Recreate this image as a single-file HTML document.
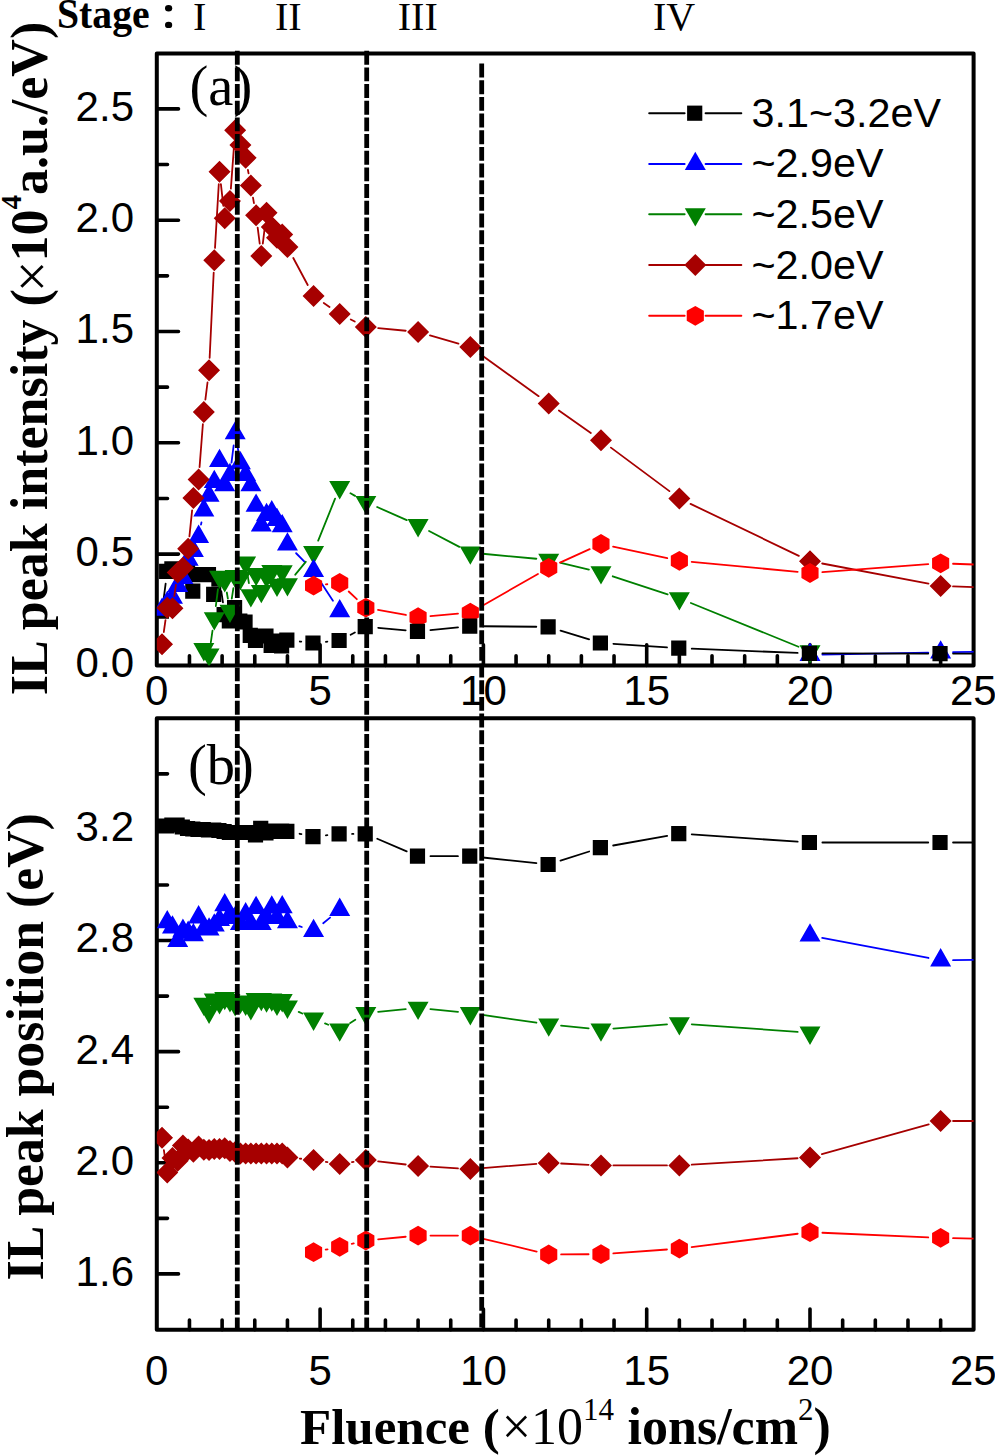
<!DOCTYPE html>
<html><head><meta charset="utf-8"><title>chart</title>
<style>html,body{margin:0;padding:0;background:#fff;}svg{display:block;}</style>
</head><body>
<svg width="995" height="1456" viewBox="0 0 995 1456">
<defs><clipPath id="ca"><rect x="156.8" y="53.5" width="816.8" height="612.0"/></clipPath><clipPath id="cb"><rect x="156.8" y="718.3" width="816.8" height="611.5"/></clipPath></defs>
<rect width="995" height="1456" fill="#fff"/>
<path d="M156.8 53.5H973.6V665.5H156.8Z" fill="none" stroke="#000" stroke-width="4.0" stroke-linejoin="round"/>
<path d="M189.46 665.5V655.8M222.12 665.5V655.8M254.78 665.5V655.8M287.44 665.5V655.8M320.1 665.5V644.8M352.76 665.5V655.8M385.42 665.5V655.8M418.08 665.5V655.8M450.74 665.5V655.8M483.4 665.5V644.8M516.06 665.5V655.8M548.72 665.5V655.8M581.38 665.5V655.8M614.04 665.5V655.8M646.7 665.5V644.8M679.36 665.5V655.8M712.02 665.5V655.8M744.68 665.5V655.8M777.34 665.5V655.8M810 665.5V644.8M842.66 665.5V655.8M875.32 665.5V655.8M907.98 665.5V655.8M940.64 665.5V655.8M156.8 554.1H178.5M156.8 442.8H178.5M156.8 331.5H178.5M156.8 220.2H178.5M156.8 108.9H178.5M156.8 609.75H167.5M156.8 498.45H167.5M156.8 387.15H167.5M156.8 275.85H167.5M156.8 164.55H167.5" stroke="#000" stroke-width="3.6" stroke-linecap="round" fill="none"/>
<g font-family="Liberation Sans" font-size="42" fill="#000"><text x="134" y="677.3" text-anchor="end">0.0</text><text x="134" y="566" text-anchor="end">0.5</text><text x="134" y="454.7" text-anchor="end">1.0</text><text x="134" y="343.4" text-anchor="end">1.5</text><text x="134" y="232.1" text-anchor="end">2.0</text><text x="134" y="120.8" text-anchor="end">2.5</text><text x="156.8" y="704.6" text-anchor="middle">0</text><text x="320.1" y="704.6" text-anchor="middle">5</text><text x="483.4" y="704.6" text-anchor="middle">10</text><text x="646.7" y="704.6" text-anchor="middle">15</text><text x="810" y="704.6" text-anchor="middle">20</text><text x="973.3" y="704.6" text-anchor="middle">25</text></g>
<path d="M156.8 718.3H973.6V1329.8H156.8Z" fill="none" stroke="#000" stroke-width="4.0" stroke-linejoin="round"/>
<path d="M189.46 1329.8V1320.1M222.12 1329.8V1320.1M254.78 1329.8V1320.1M287.44 1329.8V1320.1M320.1 1329.8V1309.1M352.76 1329.8V1320.1M385.42 1329.8V1320.1M418.08 1329.8V1320.1M450.74 1329.8V1320.1M483.4 1329.8V1309.1M516.06 1329.8V1320.1M548.72 1329.8V1320.1M581.38 1329.8V1320.1M614.04 1329.8V1320.1M646.7 1329.8V1309.1M679.36 1329.8V1320.1M712.02 1329.8V1320.1M744.68 1329.8V1320.1M777.34 1329.8V1320.1M810 1329.8V1309.1M842.66 1329.8V1320.1M875.32 1329.8V1320.1M907.98 1329.8V1320.1M940.64 1329.8V1320.1M156.8 1273.9H178.5M156.8 1162.78H178.5M156.8 1051.66H178.5M156.8 940.54H178.5M156.8 829.42H178.5M156.8 1218.34H167.5M156.8 1107.22H167.5M156.8 996.1H167.5M156.8 884.98H167.5M156.8 773.86H167.5" stroke="#000" stroke-width="3.6" stroke-linecap="round" fill="none"/>
<g font-family="Liberation Sans" font-size="42" fill="#000"><text x="134" y="1285.8" text-anchor="end">1.6</text><text x="134" y="1174.68" text-anchor="end">2.0</text><text x="134" y="1063.56" text-anchor="end">2.4</text><text x="134" y="952.44" text-anchor="end">2.8</text><text x="134" y="841.32" text-anchor="end">3.2</text><text x="156.8" y="1385.2" text-anchor="middle">0</text><text x="320.1" y="1385.2" text-anchor="middle">5</text><text x="483.4" y="1385.2" text-anchor="middle">10</text><text x="646.7" y="1385.2" text-anchor="middle">15</text><text x="810" y="1385.2" text-anchor="middle">20</text><text x="973.3" y="1385.2" text-anchor="middle">25</text></g>
<g clip-path="url(#ca)">
<path d="M163.64 598.81L165.64 583.59M221.3 591.27L222.94 602.43" fill="none" stroke="#000000" stroke-width="1.8" stroke-linecap="round"/>
<path d="M153.83 603.5h15.2v15.2h-15.2zM159.05 563.7h15.2v15.2h-15.2zM164.28 561.3h15.2v15.2h-15.2zM169.5 562.4h15.2v15.2h-15.2zM174.73 563.4h15.2v15.2h-15.2zM179.95 564.4h15.2v15.2h-15.2zM185.18 583.6h15.2v15.2h-15.2zM190.4 567.1h15.2v15.2h-15.2zM195.63 567.1h15.2v15.2h-15.2zM200.86 567h15.2v15.2h-15.2zM206.08 586.8h15.2v15.2h-15.2zM211.31 571.4h15.2v15.2h-15.2zM216.53 607.1h15.2v15.2h-15.2zM221.76 613.2h15.2v15.2h-15.2zM226.98 599.9h15.2v15.2h-15.2zM232.21 613.4h15.2v15.2h-15.2zM237.44 614.4h15.2v15.2h-15.2zM242.66 627.7h15.2v15.2h-15.2zM247.89 632.8h15.2v15.2h-15.2zM253.11 628.4h15.2v15.2h-15.2zM258.34 628.4h15.2v15.2h-15.2zM263.56 637.9h15.2v15.2h-15.2zM268.79 633.4h15.2v15.2h-15.2zM274.01 638.4h15.2v15.2h-15.2zM279.24 632.6h15.2v15.2h-15.2z" fill="#000000"/>
<path d="M201 524.63L201.43 522.47M231.5 462.7L233.65 445.5M237.32 445.41L238.27 450.89M296.13 553.25L304.88 562.15M320.34 581.39L332.93 600.71" fill="none" stroke="#0000ff" stroke-width="1.8" stroke-linecap="round"/>
<path d="M822.4 654.57L928.24 652.63M953.04 652.22L1058.88 650.68" fill="none" stroke="#0000ff" stroke-width="1.8" stroke-linecap="round"/>
<path d="M162.03 597.5L172.53 615.8L151.53 615.8zM167.25 590.8L177.75 609.1L156.75 609.1zM172.48 585.4L182.98 603.7L161.98 603.7zM177.7 573.6L188.2 591.9L167.2 591.9zM182.93 565.7L193.43 584L172.43 584zM188.15 547.4L198.65 565.7L177.65 565.7zM193.38 538.7L203.88 557L182.88 557zM198.6 524.6L209.1 542.9L188.1 542.9zM203.83 498.1L214.33 516.4L193.33 516.4zM209.06 483.5L219.56 501.8L198.56 501.8zM214.28 469.7L224.78 488L203.78 488zM219.51 448.7L230.01 467L209.01 467zM224.73 473L235.23 491.3L214.23 491.3zM229.96 462.8L240.46 481.1L219.46 481.1zM235.18 421L245.68 439.3L224.68 439.3zM240.41 450.9L250.91 469.2L229.91 469.2zM245.64 462.8L256.14 481.1L235.14 481.1zM250.86 473L261.36 491.3L240.36 491.3zM256.09 493.4L266.59 511.7L245.59 511.7zM261.31 513.3L271.81 531.6L250.81 531.6zM266.54 502.8L277.04 521.1L256.04 521.1zM271.76 500.1L282.26 518.4L261.26 518.4zM276.99 507.8L287.49 526.1L266.49 526.1zM282.21 513.9L292.71 532.2L271.71 532.2zM287.44 532.2L297.94 550.5L276.94 550.5z" fill="#0000ff"/>
<path d="M210.83 642.33L212.51 630.67M215.83 606.1L217.96 589.2M226.82 592.52L227.87 598.68M231.79 598.64L233.35 588.26M247.59 574.94L248.9 583.16M295.27 574.68L305.74 561.82M318.19 540.69L335.07 498.71M350.49 493.31L355.03 495.89M377.16 507.03L406.75 520.17M429.06 530.96L459.35 546.84M482.68 553.75L536.37 558.75M560.78 562.78L588.92 569.52M612.75 576.29L667.59 594.41M690.85 602.97L798.51 646.73" fill="none" stroke="#008000" stroke-width="1.8" stroke-linecap="round"/>
<path d="M203.83 661.4L214.33 643.1L193.33 643.1zM209.06 666.8L219.56 648.5L198.56 648.5zM214.28 630.6L224.78 612.3L203.78 612.3zM219.51 589.1L230.01 570.8L209.01 570.8zM224.73 592.5L235.23 574.2L214.23 574.2zM229.96 623.1L240.46 604.8L219.46 604.8zM235.18 588.2L245.68 569.9L224.68 569.9zM240.41 590.2L250.91 571.9L229.91 571.9zM245.64 574.9L256.14 556.6L235.14 556.6zM250.86 607.6L261.36 589.3L240.36 589.3zM256.09 586.2L266.59 567.9L245.59 567.9zM261.31 603.3L271.81 585L250.81 585zM266.54 588.2L277.04 569.9L256.04 569.9zM271.76 583.2L282.26 564.9L261.26 564.9zM276.99 597L287.49 578.7L266.49 578.7zM282.21 583.6L292.71 565.3L271.71 565.3zM287.44 596.5L297.94 578.2L276.94 578.2z" fill="#008000"/>
<path d="M163.78 632.03L165.49 620.07M174.27 596.03L175.91 584.87M189.43 536.37L192.11 510.43M199.56 467.14L202.87 424.26M205.37 399.6L207.51 382.5M209.64 357.81L213.69 272.69M215.01 247.92L218.78 184.18M220.89 184.12L223.35 205.88M230.87 188.63L234.27 142.67M247.93 169.99L248.56 173.31M253 197.71L253.94 203.09M257.67 227.6L259.73 243.7M262.8 243.69L265.05 225.11M293.29 258.03L307.72 284.97M323.76 302.96L329.5 306.94M350.8 319.52L354.72 321.48M378.17 328.16L405.73 330.74M429.99 335.36L458.43 343.64M480.41 354.33L538.65 396.17M558.86 410.54L590.84 433.06M610.93 447.6L669.41 491.1M690.54 503.87L798.82 555.83M822.18 563.5L928.46 583.6M953.03 586.36L1058.89 590.34" fill="none" stroke="#a60000" stroke-width="1.8" stroke-linecap="round"/>
<path d="M162.03 633.3L173.03 644.3L162.03 655.3L151.03 644.3zM167.25 596.8L178.25 607.8L167.25 618.8L156.25 607.8zM172.48 597.3L183.48 608.3L172.48 619.3L161.48 608.3zM177.7 561.6L188.7 572.6L177.7 583.6L166.7 572.6zM182.93 556.8L193.93 567.8L182.93 578.8L171.93 567.8zM188.15 537.7L199.15 548.7L188.15 559.7L177.15 548.7zM193.38 487.1L204.38 498.1L193.38 509.1L182.38 498.1zM198.6 468.5L209.6 479.5L198.6 490.5L187.6 479.5zM203.83 400.9L214.83 411.9L203.83 422.9L192.83 411.9zM209.06 359.2L220.06 370.2L209.06 381.2L198.06 370.2zM214.28 249.3L225.28 260.3L214.28 271.3L203.28 260.3zM219.51 160.8L230.51 171.8L219.51 182.8L208.51 171.8zM224.73 207.2L235.73 218.2L224.73 229.2L213.73 218.2zM229.96 190L240.96 201L229.96 212L218.96 201zM235.18 119.3L246.18 130.3L235.18 141.3L224.18 130.3zM240.41 134L251.41 145L240.41 156L229.41 145zM245.64 146.8L256.64 157.8L245.64 168.8L234.64 157.8zM250.86 174.5L261.86 185.5L250.86 196.5L239.86 185.5zM256.09 204.3L267.09 215.3L256.09 226.3L245.09 215.3zM261.31 245L272.31 256L261.31 267L250.31 256zM266.54 201.8L277.54 212.8L266.54 223.8L255.54 212.8zM271.76 216.1L282.76 227.1L271.76 238.1L260.76 227.1zM276.99 226.7L287.99 237.7L276.99 248.7L265.99 237.7zM282.21 223.6L293.21 234.6L282.21 245.6L271.21 234.6zM287.44 236.1L298.44 247.1L287.44 258.1L276.44 247.1z" fill="#a60000"/>
<path d="M325.91 584.37L327.36 584.23M348.71 591.52L356.81 599.18M378.02 609.92L405.88 614.98M430.43 616.11L457.98 613.69M481.1 606.45L537.95 573.95M560 562.66L589.69 549.14M613.1 546.6L667.24 558.2M691.71 561.95L797.65 571.85M822.37 572.08L928.27 564.22M953.03 563.75L1058.89 567.55" fill="none" stroke="#ff0000" stroke-width="1.8" stroke-linecap="round"/>
<path d="M313.57 284.9L324.57 295.9L313.57 306.9L302.57 295.9zM339.7 303L350.7 314L339.7 325L328.7 314zM365.82 316L376.82 327L365.82 338L354.82 327zM418.08 320.9L429.08 331.9L418.08 342.9L407.08 331.9zM470.34 336.1L481.34 347.1L470.34 358.1L459.34 347.1zM548.72 392.4L559.72 403.4L548.72 414.4L537.72 403.4zM600.98 429.2L611.98 440.2L600.98 451.2L589.98 440.2zM679.36 487.5L690.36 498.5L679.36 509.5L668.36 498.5zM810 550.2L821 561.2L810 572.2L799 561.2zM940.64 574.9L951.64 585.9L940.64 596.9L929.64 585.9zM1071.28 579.8L1082.28 590.8L1071.28 601.8L1060.28 590.8z" fill="#a60000"/>
<path d="M313.57 564.4L324.07 546.1L303.07 546.1zM339.7 499.4L350.2 481.1L329.2 481.1zM365.82 514.2L376.32 495.9L355.32 495.9zM418.08 537.4L428.58 519.1L407.58 519.1zM470.34 564.8L480.84 546.5L459.84 546.5zM548.72 572.1L559.22 553.8L538.22 553.8zM600.98 584.6L611.48 566.3L590.48 566.3zM679.36 610.5L689.86 592.2L668.86 592.2zM810 663.6L820.5 645.3L799.5 645.3z" fill="#008000"/>
<path d="M313.57 558.8L324.07 577.1L303.07 577.1zM339.7 598.9L350.2 617.2L329.2 617.2zM810 642.6L820.5 660.9L799.5 660.9zM940.64 640.2L951.14 658.5L930.14 658.5zM1071.28 638.3L1081.78 656.6L1060.78 656.6z" fill="#0000ff"/>
<path d="M313.57 575.7L322.14 580.65L322.14 590.55L313.57 595.5L304.99 590.55L304.99 580.65zM339.7 573.1L348.27 578.05L348.27 587.95L339.7 592.9L331.12 587.95L331.12 578.05zM365.82 597.8L374.4 602.75L374.4 612.65L365.82 617.6L357.25 612.65L357.25 602.75zM418.08 607.3L426.65 612.25L426.65 622.15L418.08 627.1L409.51 622.15L409.51 612.25zM470.34 602.7L478.91 607.65L478.91 617.55L470.34 622.5L461.76 617.55L461.76 607.65zM548.72 557.9L557.29 562.85L557.29 572.75L548.72 577.7L540.15 572.75L540.15 562.85zM600.98 534.1L609.55 539.05L609.55 548.95L600.98 553.9L592.4 548.95L592.4 539.05zM679.36 550.9L687.93 555.85L687.93 565.75L679.36 570.7L670.79 565.75L670.79 555.85zM810 563.1L818.57 568.05L818.57 577.95L810 582.9L801.43 577.95L801.43 568.05zM940.64 553.4L949.21 558.35L949.21 568.25L940.64 573.2L932.07 568.25L932.07 558.35zM1071.28 558.1L1079.85 563.05L1079.85 572.95L1071.28 577.9L1062.71 572.95L1062.71 563.05z" fill="#ff0000"/>
<path d="M299.77 641.52L301.24 641.68M325.91 641.82L327.35 641.68M350.66 634.71L354.86 632.49M378.17 627.81L405.73 630.29M430.42 630.15L458 627.35M482.74 626.23L536.32 626.77M560.57 630.55L589.13 639.35M613.35 643.82L666.99 647.38M691.75 648.69L797.61 652.91M822.4 653.42L928.24 653.58M953.04 653.6L1058.88 653.6" fill="none" stroke="#000000" stroke-width="1.8" stroke-linecap="round"/>
<path d="M305.37 635.4h15.2v15.2h-15.2zM331.5 632.9h15.2v15.2h-15.2zM357.62 619.1h15.2v15.2h-15.2zM409.88 623.8h15.2v15.2h-15.2zM462.14 618.5h15.2v15.2h-15.2zM540.52 619.3h15.2v15.2h-15.2zM592.78 635.4h15.2v15.2h-15.2zM671.16 640.6h15.2v15.2h-15.2zM801.8 645.8h15.2v15.2h-15.2zM932.44 646h15.2v15.2h-15.2zM1063.08 646h15.2v15.2h-15.2z" fill="#000000"/>
</g>
<g clip-path="url(#cb)">

<path d="M153.83 818.4h15.2v15.2h-15.2zM159.05 818.4h15.2v15.2h-15.2zM164.28 817.4h15.2v15.2h-15.2zM169.5 817.4h15.2v15.2h-15.2zM174.73 819.4h15.2v15.2h-15.2zM179.95 820.9h15.2v15.2h-15.2zM185.18 821.4h15.2v15.2h-15.2zM190.4 821.9h15.2v15.2h-15.2zM195.63 821.9h15.2v15.2h-15.2zM200.86 822.4h15.2v15.2h-15.2zM206.08 822.4h15.2v15.2h-15.2zM211.31 822.9h15.2v15.2h-15.2zM216.53 823.9h15.2v15.2h-15.2zM221.76 824.9h15.2v15.2h-15.2zM226.98 824.9h15.2v15.2h-15.2zM232.21 824.9h15.2v15.2h-15.2zM237.44 824.9h15.2v15.2h-15.2zM242.66 824.9h15.2v15.2h-15.2zM247.89 827.4h15.2v15.2h-15.2zM253.11 820.7h15.2v15.2h-15.2zM258.34 825.4h15.2v15.2h-15.2zM263.56 823.4h15.2v15.2h-15.2zM268.79 823.9h15.2v15.2h-15.2zM274.01 823.4h15.2v15.2h-15.2zM279.24 823.7h15.2v15.2h-15.2z" fill="#000000"/>
<path d="M299.18 926.1L301.83 927M323.2 923.19L330.07 917.61" fill="none" stroke="#0000ff" stroke-width="1.8" stroke-linecap="round"/>
<path d="M822.18 937.81L928.46 957.99M953.04 960.18L1058.88 959.12" fill="none" stroke="#0000ff" stroke-width="1.8" stroke-linecap="round"/>
<path d="M167.25 909.9L177.75 928.2L156.75 928.2zM172.48 915.3L182.98 933.6L161.98 933.6zM177.7 928.6L188.2 946.9L167.2 946.9zM182.93 918.4L193.43 936.7L172.43 936.7zM188.15 920.4L198.65 938.7L177.65 938.7zM193.38 923L203.88 941.3L182.88 941.3zM198.6 905.1L209.1 923.4L188.1 923.4zM203.83 917.3L214.33 935.6L193.33 935.6zM209.06 917.3L219.56 935.6L198.56 935.6zM214.28 913.3L224.78 931.6L203.78 931.6zM219.51 907.8L230.01 926.1L209.01 926.1zM224.73 893L235.23 911.3L214.23 911.3zM229.96 902.8L240.46 921.1L219.46 921.1zM235.18 905.8L245.68 924.1L224.68 924.1zM240.41 911.8L250.91 930.1L229.91 930.1zM245.64 902.1L256.14 920.4L235.14 920.4zM250.86 911.8L261.36 930.1L240.36 930.1zM256.09 895.7L266.59 914L245.59 914zM261.31 911.8L271.81 930.1L250.81 930.1zM266.54 905.8L277.04 924.1L256.04 924.1zM271.76 895.3L282.26 913.6L261.26 913.6zM276.99 905.8L287.49 924.1L266.49 924.1zM282.21 894.9L292.71 913.2L271.71 913.2zM287.44 909.9L297.94 928.2L276.94 928.2z" fill="#0000ff"/>
<path d="M298.71 1011.88L302.3 1013.52M325.03 1023.44L328.24 1024.76M350.22 1022.94L355.3 1019.76M378.16 1011.93L405.75 1009.07M430.41 1009.07L458 1011.93M482.61 1014.97L536.45 1022.73M561.06 1025.68L588.63 1028.32M613.34 1028.54L667 1024.36M691.73 1024.28L797.63 1031.82" fill="none" stroke="#008000" stroke-width="1.8" stroke-linecap="round"/>
<path d="M203.83 1016L214.33 997.7L193.33 997.7zM209.06 1023.9L219.56 1005.6L198.56 1005.6zM214.28 1011.8L224.78 993.5L203.78 993.5zM219.51 1014.6L230.01 996.3L209.01 996.3zM224.73 1010.2L235.23 991.9L214.23 991.9zM229.96 1012.4L240.46 994.1L219.46 994.1zM235.18 1016.4L245.68 998.1L224.68 998.1zM240.41 1013.9L250.91 995.6L229.91 995.6zM245.64 1016L256.14 997.7L235.14 997.7zM250.86 1020.5L261.36 1002.2L240.36 1002.2zM256.09 1011.2L266.59 992.9L245.59 992.9zM261.31 1011.2L271.81 992.9L250.81 992.9zM266.54 1012.8L277.04 994.5L256.04 994.5zM271.76 1011.7L282.26 993.4L261.26 993.4zM276.99 1016L287.49 997.7L266.49 997.7zM282.21 1012.4L292.71 994.1L271.71 994.1zM287.44 1018.9L297.94 1000.6L276.94 1000.6z" fill="#008000"/>
<path d="M163.87 1150.06L165.41 1160.34M299.79 1158.63L301.22 1158.77M325.82 1161.82L327.45 1162.08M351.95 1162.08L353.57 1161.82M378.14 1161.31L405.76 1164.49M430.46 1166.66L457.96 1168.34M482.7 1168.12L536.36 1163.88M561.11 1163.49L588.59 1164.81M613.38 1165.4L666.96 1165.4M691.74 1164.65L797.62 1158.25M821.94 1154.16L928.7 1124.34M953.04 1121L1058.88 1121" fill="none" stroke="#a60000" stroke-width="1.8" stroke-linecap="round"/>
<path d="M162.03 1126.8L173.03 1137.8L162.03 1148.8L151.03 1137.8zM167.25 1161.6L178.25 1172.6L167.25 1183.6L156.25 1172.6zM172.48 1147.1L183.48 1158.1L172.48 1169.1L161.48 1158.1zM177.7 1149.8L188.7 1160.8L177.7 1171.8L166.7 1160.8zM182.93 1134.6L193.93 1145.6L182.93 1156.6L171.93 1145.6zM188.15 1138.5L199.15 1149.5L188.15 1160.5L177.15 1149.5zM193.38 1140.7L204.38 1151.7L193.38 1162.7L182.38 1151.7zM198.6 1135.6L209.6 1146.6L198.6 1157.6L187.6 1146.6zM203.83 1138.7L214.83 1149.7L203.83 1160.7L192.83 1149.7zM209.06 1139L220.06 1150L209.06 1161L198.06 1150zM214.28 1138L225.28 1149L214.28 1160L203.28 1149zM219.51 1138L230.51 1149L219.51 1160L208.51 1149zM224.73 1137.3L235.73 1148.3L224.73 1159.3L213.73 1148.3zM229.96 1140L240.96 1151L229.96 1162L218.96 1151zM235.18 1141L246.18 1152L235.18 1163L224.18 1152zM240.41 1142.5L251.41 1153.5L240.41 1164.5L229.41 1153.5zM245.64 1142.5L256.64 1153.5L245.64 1164.5L234.64 1153.5zM250.86 1142.5L261.86 1153.5L250.86 1164.5L239.86 1153.5zM256.09 1142.5L267.09 1153.5L256.09 1164.5L245.09 1153.5zM261.31 1142.5L272.31 1153.5L261.31 1164.5L250.31 1153.5zM266.54 1142.5L277.54 1153.5L266.54 1164.5L255.54 1153.5zM271.76 1142.5L282.76 1153.5L271.76 1164.5L260.76 1153.5zM276.99 1142.5L287.99 1153.5L276.99 1164.5L265.99 1153.5zM282.21 1142.5L293.21 1153.5L282.21 1164.5L271.21 1153.5zM287.44 1146.5L298.44 1157.5L287.44 1168.5L276.44 1157.5z" fill="#a60000"/>
<path d="M325.71 1249.69L327.55 1249.31M351.75 1243.89L353.77 1243.41M378.17 1239.34L405.73 1236.76M430.48 1235.6L457.94 1235.6M482.39 1238.51L536.67 1251.59M561.12 1254.43L588.58 1254.27M613.34 1253.32L666.99 1249.48M691.66 1247.06L797.7 1233.74M822.39 1232.74L928.25 1237.36M953.04 1238.19L1058.88 1240.71" fill="none" stroke="#ff0000" stroke-width="1.8" stroke-linecap="round"/>
<path d="M313.57 1148.9L324.57 1159.9L313.57 1170.9L302.57 1159.9zM339.7 1153L350.7 1164L339.7 1175L328.7 1164zM365.82 1148.9L376.82 1159.9L365.82 1170.9L354.82 1159.9zM418.08 1154.9L429.08 1165.9L418.08 1176.9L407.08 1165.9zM470.34 1158.1L481.34 1169.1L470.34 1180.1L459.34 1169.1zM548.72 1151.9L559.72 1162.9L548.72 1173.9L537.72 1162.9zM600.98 1154.4L611.98 1165.4L600.98 1176.4L589.98 1165.4zM679.36 1154.4L690.36 1165.4L679.36 1176.4L668.36 1165.4zM810 1146.5L821 1157.5L810 1168.5L799 1157.5zM940.64 1110L951.64 1121L940.64 1132L929.64 1121zM1071.28 1110L1082.28 1121L1071.28 1132L1060.28 1121z" fill="#a60000"/>
<path d="M313.57 1030.9L324.07 1012.6L303.07 1012.6zM339.7 1041.7L350.2 1023.4L329.2 1023.4zM365.82 1025.4L376.32 1007.1L355.32 1007.1zM418.08 1020L428.58 1001.7L407.58 1001.7zM470.34 1025.4L480.84 1007.1L459.84 1007.1zM548.72 1036.7L559.22 1018.4L538.22 1018.4zM600.98 1041.7L611.48 1023.4L590.48 1023.4zM679.36 1035.6L689.86 1017.3L668.86 1017.3zM810 1044.9L820.5 1026.6L799.5 1026.6z" fill="#008000"/>
<path d="M313.57 918.8L324.07 937.1L303.07 937.1zM339.7 897.6L350.2 915.9L329.2 915.9zM810 923.3L820.5 941.6L799.5 941.6zM940.64 948.1L951.14 966.4L930.14 966.4zM1071.28 946.8L1081.78 965.1L1060.78 965.1z" fill="#0000ff"/>
<path d="M313.57 1242.3L322.14 1247.25L322.14 1257.15L313.57 1262.1L304.99 1257.15L304.99 1247.25zM339.7 1236.9L348.27 1241.85L348.27 1251.75L339.7 1256.7L331.12 1251.75L331.12 1241.85zM365.82 1230.6L374.4 1235.55L374.4 1245.45L365.82 1250.4L357.25 1245.45L357.25 1235.55zM418.08 1225.7L426.65 1230.65L426.65 1240.55L418.08 1245.5L409.51 1240.55L409.51 1230.65zM470.34 1225.7L478.91 1230.65L478.91 1240.55L470.34 1245.5L461.76 1240.55L461.76 1230.65zM548.72 1244.6L557.29 1249.55L557.29 1259.45L548.72 1264.4L540.15 1259.45L540.15 1249.55zM600.98 1244.3L609.55 1249.25L609.55 1259.15L600.98 1264.1L592.4 1259.15L592.4 1249.25zM679.36 1238.7L687.93 1243.65L687.93 1253.55L679.36 1258.5L670.79 1253.55L670.79 1243.65zM810 1222.3L818.57 1227.25L818.57 1237.15L810 1242.1L801.43 1237.15L801.43 1227.25zM940.64 1228L949.21 1232.95L949.21 1242.85L940.64 1247.8L932.07 1242.85L932.07 1232.95zM1071.28 1231.1L1079.85 1236.05L1079.85 1245.95L1071.28 1250.9L1062.71 1245.95L1062.71 1236.05z" fill="#ff0000"/>
<path d="M299.59 833.77L301.42 834.13M325.9 835.33L327.36 835.17M352.1 833.9L353.42 833.9M377.23 838.77L406.68 851.33M430.48 856.2L457.94 856.2M482.67 857.51L536.39 863.19M560.52 860.7L589.17 851.5M613.18 845.5L667.16 835.8M691.73 834.44L797.63 841.66M822.4 842.5L928.24 842.5M953.04 842.5L1058.88 842.5" fill="none" stroke="#000000" stroke-width="1.8" stroke-linecap="round"/>
<path d="M305.37 829h15.2v15.2h-15.2zM331.5 826.3h15.2v15.2h-15.2zM357.62 826.3h15.2v15.2h-15.2zM409.88 848.6h15.2v15.2h-15.2zM462.14 848.6h15.2v15.2h-15.2zM540.52 856.9h15.2v15.2h-15.2zM592.78 840.1h15.2v15.2h-15.2zM671.16 826h15.2v15.2h-15.2zM801.8 834.9h15.2v15.2h-15.2zM932.44 834.9h15.2v15.2h-15.2zM1063.08 834.9h15.2v15.2h-15.2z" fill="#000000"/>
</g>
<path d="M649.2 113.2H684.6M705.6 113.2H741.3000000000001" stroke="#000000" stroke-width="2" stroke-linecap="round"/>
<path d="M687.1 105.6h15.2v15.2h-15.2z" fill="#000000"/>
<text x="751.5" y="126.6" font-family="Liberation Sans" font-size="41.3" fill="#000">3.1~3.2eV</text>
<path d="M649.2 163.9H684.6M705.6 163.9H741.3000000000001" stroke="#0000ff" stroke-width="2" stroke-linecap="round"/>
<path d="M695.3 151.7L705.8 170L684.8 170z" fill="#0000ff"/>
<text x="751.5" y="177.3" font-family="Liberation Sans" font-size="41.3" fill="#000">~2.9eV</text>
<path d="M649.2 214.3H684.6M705.6 214.3H741.3000000000001" stroke="#008000" stroke-width="2" stroke-linecap="round"/>
<path d="M695.3 226.5L705.8 208.2L684.8 208.2z" fill="#008000"/>
<text x="751.5" y="227.7" font-family="Liberation Sans" font-size="41.3" fill="#000">~2.5eV</text>
<path d="M649.2 265.1H684.6M705.6 265.1H741.3000000000001" stroke="#a60000" stroke-width="2" stroke-linecap="round"/>
<path d="M695.3 254.1L706.3 265.1L695.3 276.1L684.3 265.1z" fill="#a60000"/>
<text x="751.5" y="278.5" font-family="Liberation Sans" font-size="41.3" fill="#000">~2.0eV</text>
<path d="M649.2 315.8H684.6M705.6 315.8H741.3000000000001" stroke="#ff0000" stroke-width="2" stroke-linecap="round"/>
<path d="M695.3 305.9L703.87 310.85L703.87 320.75L695.3 325.7L686.73 320.75L686.73 310.85z" fill="#ff0000"/>
<text x="751.5" y="329.2" font-family="Liberation Sans" font-size="41.3" fill="#000">~1.7eV</text>
<text x="189.5" y="104.6" font-family="Liberation Serif" font-size="56.5" fill="#000">(a)</text>
<text x="187.9" y="783.5" font-family="Liberation Serif" font-size="56.5" fill="#000">(b)</text>
<text transform="translate(57,27.9) scale(0.945,1)" font-family="Liberation Serif" font-weight="bold" font-size="42" fill="#000">Stage</text>
<ellipse cx="168.6" cy="8.3" rx="3.6" ry="3.2" fill="#000"/><ellipse cx="168.6" cy="24.9" rx="3.6" ry="3.2" fill="#000"/>
<text x="193" y="29.6" font-family="Liberation Serif" font-size="40" fill="#000">I</text>
<text x="275" y="29.6" font-family="Liberation Serif" font-size="40" fill="#000">II</text>
<text x="397.8" y="29.6" font-family="Liberation Serif" font-size="40" fill="#000">III</text>
<text x="653" y="29.6" font-family="Liberation Serif" font-size="40" fill="#000">IV</text>
<text transform="translate(46.6,695.2) rotate(-90)" font-family="Liberation Serif" font-weight="bold" font-size="52" fill="#000">IL peak intensity (<tspan font-weight="normal" font-size="56" dx="-3" dy="4">×</tspan><tspan dy="-4" dx="-1">10</tspan><tspan font-size="29" dy="-26">4</tspan><tspan dy="26">a.u./eV)</tspan></text>
<text transform="translate(42.5,1280.5) rotate(-90)" font-family="Liberation Serif" font-weight="bold" font-size="51.75" fill="#000">IL peak position (eV)</text>
<text x="300" y="1443.6" font-family="Liberation Serif" font-weight="bold" font-size="52" fill="#000"><tspan font-size="51">Fluence (</tspan><tspan font-weight="normal" dx="2">×10<tspan font-size="31" dy="-24">14</tspan></tspan><tspan dy="24" dx="0.5"> ions/cm</tspan><tspan font-weight="normal" font-size="31" dy="-24">2</tspan><tspan dy="24">)</tspan></text>
<path d="M237.3 50.77V1329.8" stroke="#000" stroke-width="4.8" stroke-dasharray="13.9 2.767"/>
<path d="M366.7 50.77V1329.8" stroke="#000" stroke-width="4.8" stroke-dasharray="13.9 2.767"/>
<path d="M481.7 63.6V1329.8" stroke="#000" stroke-width="4.8" stroke-dasharray="13.9 2.767"/>
</svg>
</body></html>
